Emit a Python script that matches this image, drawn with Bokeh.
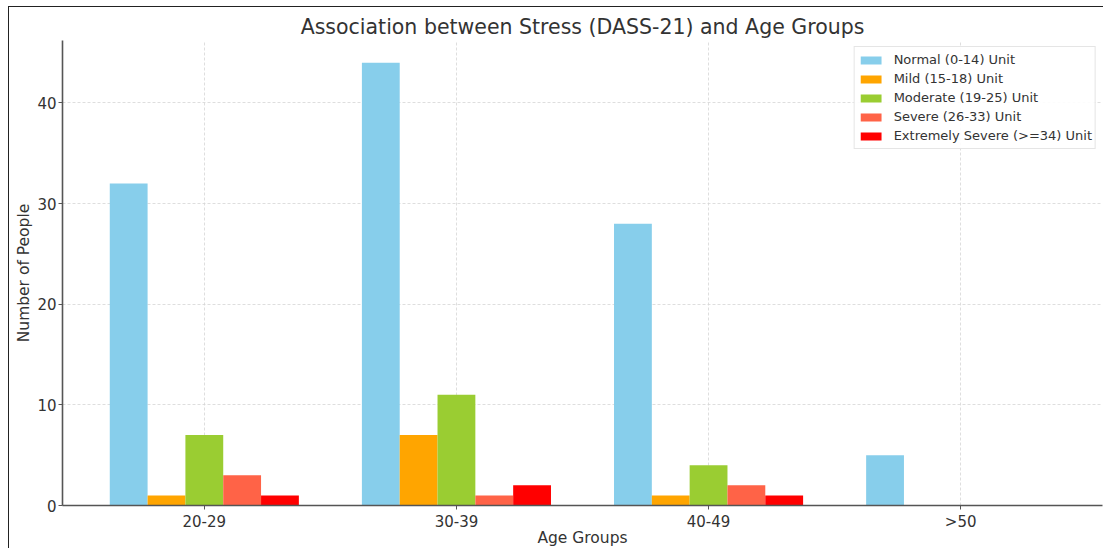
from bokeh.plotting import figure
from bokeh.models import ColumnDataSource, FixedTicker, Range1d, Legend
from bokeh.embed import file_html
from bokeh.resources import INLINE

age_groups = ["20-29", "30-39", "40-49", ">50"]
series_names = ["Normal (0-14) Unit", "Mild (15-18) Unit", "Moderate (19-25) Unit",
                "Severe (26-33) Unit", "Extremely Severe (>=34) Unit"]
normal = [32, 44, 28, 5]
mild = [1, 7, 1, 0]
moderate = [7, 11, 4, 0]
severe = [3, 1, 2, 0]
extremely_severe = [1, 2, 1, 0]
series_values = [normal, mild, moderate, severe, extremely_severe]
colors = ["#87CEEB", "#FFA500", "#9ACD32", "#FF6347", "#FF0000"]

bar_w = 0.15
offsets = [-0.3, -0.15, 0.0, 0.15, 0.3]

FONT = "DejaVu Sans"
TXT = "#333333"

p = figure(width=1095, height=542, output_backend="svg", toolbar_location=None,
           x_range=Range1d(-0.5625, 3.5625), y_range=Range1d(0, 46.2),
           min_border_left=53, min_border_right=2, min_border_top=33, min_border_bottom=40,
           styles={"margin-left": "8px", "margin-top": "6px",
                   "border-top": "1.5px solid #222", "border-left": "1.5px solid #222"})

p.title.text = "Association between Stress (DASS-21) and Age Groups"
p.title.align = "center"
p.title.text_font = FONT
p.title.text_font_size = "20.5px"
p.title.text_font_style = "normal"
p.title.text_color = TXT
p.title.standoff = 4

renderers = []
for name, vals, off, col in zip(series_names, series_values, offsets, colors):
    src = ColumnDataSource(dict(x=[i + off for i in range(len(age_groups))], top=vals))
    r = p.vbar(x="x", top="top", width=bar_w, bottom=0, source=src,
               fill_color=col, line_color=None)
    renderers.append((name, [r]))

legend = Legend(items=renderers, location="top_right")
legend.margin = 6
legend.padding = 3
legend.spacing = 0
legend.label_height = 19
legend.glyph_width = 26
legend.glyph_height = 10
legend.label_standoff = 10
legend.label_text_font = FONT
legend.label_text_font_size = "13px"
legend.label_text_color = TXT
legend.border_line_color = "#cccccc"
legend.border_line_width = 1
legend.background_fill_alpha = 0.9
p.add_layout(legend)

p.outline_line_color = None
p.background_fill_color = "white"

p.xaxis.ticker = FixedTicker(ticks=list(range(len(age_groups))))
p.xaxis.major_label_overrides = {i: g for i, g in enumerate(age_groups)}
p.yaxis.ticker = FixedTicker(ticks=[0, 10, 20, 30, 40])

p.xaxis.axis_label = "Age Groups"
p.yaxis.axis_label = "Number of People"
for ax in (p.xaxis, p.yaxis):
    ax.axis_label_text_font = FONT
    ax.axis_label_text_font_size = "15.5px"
    ax.axis_label_text_font_style = "normal"
    ax.axis_label_text_color = TXT
    ax.major_label_text_font = FONT
    ax.major_label_text_font_size = "15px"
    ax.major_label_text_color = TXT
    ax.axis_line_color = "#555555"
    ax.axis_line_width = 1.6
    ax.major_tick_line_color = "#555555"
    ax.major_tick_out = 4
    ax.major_tick_in = 0
    ax.minor_tick_line_color = None
p.xaxis.axis_label_standoff = -5
p.xaxis.major_label_standoff = 3
p.yaxis.axis_label_standoff = 1
p.yaxis.major_label_standoff = 2

p.xgrid.grid_line_color = "#d5d5d5"
p.ygrid.grid_line_color = "#d5d5d5"
p.xgrid.grid_line_dash = "3 2"
p.ygrid.grid_line_dash = "3 2"
p.xgrid.grid_line_width = 0.8
p.ygrid.grid_line_width = 0.8

open("out.html", "w").write(file_html(p, INLINE))
